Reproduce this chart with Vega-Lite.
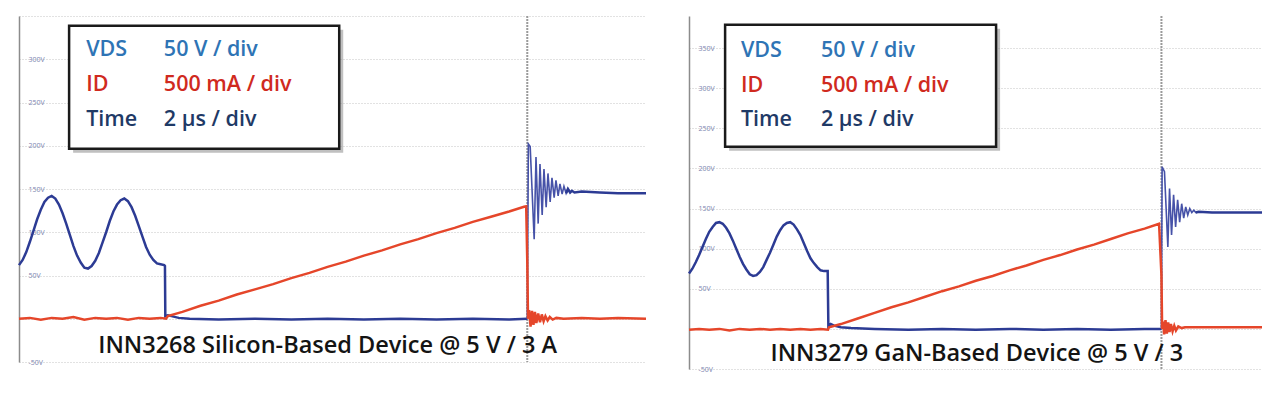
{
  "$schema": "https://vega.github.io/schema/vega-lite/v6.json",
  "padding": {"left": 14, "top": 15, "right": 0, "bottom": 0},
  "spacing": 33,
  "background": "white",
  "config": {"view": {"stroke": null}, "font": "Open Sans"},
  "datasets": {
    "lv": [
      {"t":0.0,"v":62},{"t":0.1,"v":68},{"t":0.2,"v":77},{"t":0.3,"v":89},{"t":0.4,"v":102},{"t":0.5,"v":115},{"t":0.6,"v":126},{"t":0.7,"v":135},{"t":0.8,"v":140},{"t":0.9,"v":142},
      {"t":1.0,"v":139},{"t":1.1,"v":132},{"t":1.2,"v":122},{"t":1.3,"v":110},{"t":1.4,"v":97},{"t":1.5,"v":84},{"t":1.6,"v":73},{"t":1.7,"v":65},{"t":1.8,"v":59},{"t":1.9,"v":58},
      {"t":2.0,"v":61},{"t":2.1,"v":67},{"t":2.2,"v":76},{"t":2.3,"v":88},{"t":2.4,"v":100},{"t":2.5,"v":113},{"t":2.6,"v":124},{"t":2.7,"v":132},{"t":2.8,"v":137},{"t":2.9,"v":139},
      {"t":3.0,"v":136},{"t":3.1,"v":129},{"t":3.2,"v":119},{"t":3.3,"v":107},{"t":3.4,"v":95},{"t":3.5,"v":83},{"t":3.6,"v":74},{"t":3.7,"v":68},{"t":3.8,"v":64},{"t":3.9,"v":63},
      {"t":4.0,"v":62},{"t":4.02,"v":61},{"t":4.03,"v":3},{"t":4.1,"v":4},{"t":4.2,"v":3},{"t":4.4,"v":1},{"t":4.7,"v":0},{"t":5.5,"v":-1},{"t":6.5,"v":0},{"t":7.5,"v":-1},
      {"t":8.5,"v":0},{"t":9.5,"v":-1},{"t":10.5,"v":0},{"t":11.5,"v":-1},{"t":12.5,"v":0},{"t":13.5,"v":-1},{"t":14.0,"v":0},
      {"t":14.03,"v":202},{"t":14.08,"v":199},{"t":14.19,"v":92},{"t":14.24,"v":187},{"t":14.30,"v":110},{"t":14.35,"v":179},{"t":14.41,"v":120},{"t":14.46,"v":173},{"t":14.52,"v":129},{"t":14.57,"v":168},
      {"t":14.63,"v":135},{"t":14.68,"v":163},{"t":14.74,"v":140},{"t":14.79,"v":160},{"t":14.85,"v":142},{"t":14.90,"v":156},{"t":14.96,"v":144},{"t":15.01,"v":153},{"t":15.07,"v":145},{"t":15.12,"v":150},
      {"t":15.18,"v":146},{"t":15.23,"v":148},{"t":15.3,"v":146},{"t":15.5,"v":147},{"t":16.0,"v":146},{"t":16.5,"v":145},{"t":17.27,"v":145}
    ],
    "li": [
      {"t":0.0,"i":0.0},{"t":0.3,"i":0.01},{"t":0.6,"i":-0.01},{"t":0.9,"i":0.01},{"t":1.2,"i":0.0},{"t":1.5,"i":0.02},{"t":1.8,"i":-0.01},{"t":2.1,"i":0.01},{"t":2.4,"i":0.0},{"t":2.7,"i":0.01},
      {"t":3.0,"i":-0.01},{"t":3.3,"i":0.01},{"t":3.6,"i":0.0},{"t":3.9,"i":0.01},{"t":4.05,"i":0.0},{"t":4.1,"i":0.03},{"t":4.5,"i":0.08},{"t":5.0,"i":0.15},{"t":5.5,"i":0.21},{"t":6.0,"i":0.28},
      {"t":6.5,"i":0.34},{"t":7.0,"i":0.40},{"t":7.5,"i":0.47},{"t":8.0,"i":0.53},{"t":8.5,"i":0.60},{"t":9.0,"i":0.66},{"t":9.5,"i":0.73},{"t":10.0,"i":0.79},{"t":10.5,"i":0.86},{"t":11.0,"i":0.92},
      {"t":11.5,"i":0.99},{"t":12.0,"i":1.05},{"t":12.5,"i":1.12},{"t":13.0,"i":1.18},{"t":13.5,"i":1.24},{"t":13.91,"i":1.295},{"t":13.97,"i":1.30},{"t":14.0,"i":0.66},{"t":14.02,"i":0.0},
      {"t":14.05,"i":0.10},{"t":14.09,"i":-0.09},{"t":14.13,"i":0.09},{"t":14.17,"i":-0.07},{"t":14.21,"i":0.08},{"t":14.25,"i":-0.05},{"t":14.30,"i":0.06},{"t":14.35,"i":-0.04},{"t":14.40,"i":0.05},
      {"t":14.45,"i":-0.03},{"t":14.5,"i":0.03},{"t":14.56,"i":-0.02},{"t":14.62,"i":0.02},{"t":14.7,"i":-0.01},{"t":14.8,"i":0.01},{"t":15.0,"i":0.0},{"t":15.5,"i":0.01},{"t":16.0,"i":0.0},{"t":16.5,"i":0.01},{"t":17.27,"i":0.0}
    ],
    "rv": [
      {"t":0.0,"v":69},{"t":0.1,"v":75},{"t":0.2,"v":83},{"t":0.3,"v":92},{"t":0.4,"v":102},{"t":0.5,"v":112},{"t":0.6,"v":121},{"t":0.7,"v":127},{"t":0.8,"v":132},{"t":0.9,"v":133},
      {"t":1.0,"v":131},{"t":1.1,"v":126},{"t":1.2,"v":119},{"t":1.3,"v":110},{"t":1.4,"v":100},{"t":1.5,"v":90},{"t":1.6,"v":81},{"t":1.7,"v":74},{"t":1.8,"v":68},{"t":1.9,"v":66},
      {"t":2.0,"v":67},{"t":2.1,"v":71},{"t":2.2,"v":77},{"t":2.3,"v":86},{"t":2.4,"v":95},{"t":2.5,"v":105},{"t":2.6,"v":115},{"t":2.7,"v":123},{"t":2.8,"v":129},{"t":2.9,"v":132},
      {"t":3.0,"v":133},{"t":3.1,"v":130},{"t":3.2,"v":124},{"t":3.3,"v":117},{"t":3.4,"v":107},{"t":3.5,"v":97},{"t":3.6,"v":88},{"t":3.7,"v":82},{"t":3.8,"v":77},{"t":3.9,"v":73},
      {"t":4.0,"v":72},{"t":4.11,"v":72},{"t":4.13,"v":3},{"t":4.2,"v":6},{"t":4.3,"v":4},{"t":4.5,"v":2},{"t":4.8,"v":1},{"t":5.5,"v":0},{"t":6.5,"v":-1},{"t":7.5,"v":0},
      {"t":8.5,"v":-1},{"t":9.5,"v":0},{"t":10.5,"v":-1},{"t":11.5,"v":0},{"t":12.5,"v":-1},{"t":13.5,"v":0},{"t":14.0,"v":0},
      {"t":14.02,"v":202},{"t":14.09,"v":196},{"t":14.19,"v":102},{"t":14.24,"v":175},{"t":14.30,"v":117},{"t":14.36,"v":167},{"t":14.42,"v":127},{"t":14.48,"v":161},{"t":14.54,"v":133},{"t":14.60,"v":156},
      {"t":14.66,"v":138},{"t":14.72,"v":152},{"t":14.78,"v":142},{"t":14.84,"v":150},{"t":14.90,"v":145},{"t":14.96,"v":148},{"t":15.02,"v":145},{"t":15.1,"v":146},{"t":15.5,"v":145},{"t":16.0,"v":145},{"t":16.98,"v":145}
    ],
    "ri": [
      {"t":0.0,"i":-0.01},{"t":0.3,"i":0.0},{"t":0.6,"i":-0.01},{"t":0.9,"i":0.0},{"t":1.2,"i":-0.02},{"t":1.5,"i":0.0},{"t":1.8,"i":-0.01},{"t":2.1,"i":0.0},{"t":2.4,"i":-0.01},{"t":2.7,"i":0.0},
      {"t":3.0,"i":-0.01},{"t":3.3,"i":0.0},{"t":3.6,"i":-0.01},{"t":3.9,"i":0.0},{"t":4.12,"i":-0.01},{"t":4.15,"i":0.02},{"t":4.5,"i":0.06},{"t":5.0,"i":0.13},{"t":5.5,"i":0.20},{"t":6.0,"i":0.27},
      {"t":6.5,"i":0.33},{"t":7.0,"i":0.40},{"t":7.5,"i":0.47},{"t":8.0,"i":0.53},{"t":8.5,"i":0.60},{"t":9.0,"i":0.66},{"t":9.5,"i":0.73},{"t":10.0,"i":0.79},{"t":10.5,"i":0.86},{"t":11.0,"i":0.92},
      {"t":11.5,"i":0.99},{"t":12.0,"i":1.05},{"t":12.5,"i":1.12},{"t":13.0,"i":1.19},{"t":13.5,"i":1.25},{"t":13.93,"i":1.31},{"t":14.0,"i":0.67},{"t":14.02,"i":0.0},
      {"t":14.05,"i":0.09},{"t":14.08,"i":-0.07},{"t":14.12,"i":0.11},{"t":14.16,"i":-0.06},{"t":14.2,"i":0.08},{"t":14.24,"i":-0.04},{"t":14.28,"i":0.06},{"t":14.33,"i":-0.03},{"t":14.38,"i":0.04},
      {"t":14.43,"i":-0.02},{"t":14.5,"i":0.03},{"t":14.6,"i":0.01},{"t":14.7,"i":0.02},{"t":15.0,"i":0.02},{"t":16.0,"i":0.02},{"t":16.98,"i":0.02}
    ],
    "box": [
      {"name":"VDS","per":"50 V / div"},
      {"name":"ID","per":"500 mA / div"},
      {"name":"Time","per":"2 µs / div"}
    ],
    "ltitle": [{"title":"INN3268 Silicon-Based Device @ 5 V / 3 A"}],
    "rtitle": [{"title":"INN3279 GaN-Based Device @ 5 V / 3"}],
    "trig": [{"t":14}],
    "frame": [{"part":"info box"}]
  },
  "hconcat": [
    {
      "width": 627,
      "height": 346,
      "resolve": {"scale": {"y": "independent"}},
      "layer": [
        {
          "data": {"name":"trig"},
          "mark": {"type":"rule","color":"#9a9a9a","strokeWidth":2,"strokeDash":[2,1]},
          "encoding": {"x": {"field":"t","type":"quantitative","scale":{"domain":[0,17.27],"nice":false},"axis":null}}
        },
        {
          "data": {"name":"lv"},
          "transform": [{"filter":"datum.t <= 14.0"}],
          "mark": {"type":"line","color":"#2c3b94","strokeWidth":2.5},
          "encoding": {
            "x": {"field":"t","type":"quantitative","scale":{"domain":[0,17.27],"nice":false},
              "axis":{"values":[0,2,4,6,8,10,12,14,16],"labels":false,"ticks":false,"domain":false,"title":null,"grid":true,"gridColor":"#c4c4c4","gridDash":[1,2],"gridWidth":1}},
            "y": {"field":"v","type":"quantitative","scale":{"domain":[-50,350],"nice":false},
              "axis":{"values":[-50,0,50,100,150,200,250,300,350],"labelExpr":"datum.value == 0 || datum.value == 350 ? '' : datum.value + 'V'","title":null,
                "ticks":false,"tickSize":0,"labelPadding":-9,"labelAlign":"left","labelBaseline":"middle","labelFontSize":7,"labelColor":"#7d84b0",
                "domainColor":"#8c8c8c","domainWidth":1.5,"grid":true,"gridColor":"#c4c4c4","gridDash":[1,2],"gridWidth":1}}
          }
        },
        {
          "data": {"name":"lv"},
          "transform": [{"filter":"datum.t >= 14.0 && datum.t <= 15.12"}],
          "mark": {"type":"line","color":"#4652a8","strokeWidth":1.6},
          "encoding": {
            "x": {"field":"t","type":"quantitative","scale":{"domain":[0,17.27],"nice":false},"axis":null},
            "y": {"field":"v","type":"quantitative","scale":{"domain":[-50,350],"nice":false},"axis":null}
          }
        },
        {
          "data": {"name":"lv"},
          "transform": [{"filter":"datum.t >= 15.07"}],
          "mark": {"type":"line","color":"#2c3b94","strokeWidth":2.5},
          "encoding": {
            "x": {"field":"t","type":"quantitative","scale":{"domain":[0,17.27],"nice":false},"axis":null},
            "y": {"field":"v","type":"quantitative","scale":{"domain":[-50,350],"nice":false},"axis":null}
          }
        },
        {
          "data": {"name":"li"},
          "mark": {"type":"line","color":"#e5462a","strokeWidth":2.5},
          "encoding": {
            "x": {"field":"t","type":"quantitative","scale":{"domain":[0,17.27],"nice":false},"axis":null},
            "y": {"field":"i","type":"quantitative","scale":{"domain":[-0.5,3.5],"nice":false},"axis":null}
          }
        },
        {
          "data": {"name":"frame"},
          "mark": {"type":"rect","fill":"#8c8c8c","opacity":0.55,"xOffset":4,"x2Offset":4,"yOffset":4,"y2Offset":4},
          "encoding": {
            "x": {"datum":1.38,"type":"quantitative","scale":{"domain":[0,17.27],"nice":false},"axis":null},
            "x2": {"datum":8.82},
            "y": {"datum":338.7,"type":"quantitative","scale":{"domain":[-50,350],"nice":false},"axis":null},
            "y2": {"datum":196.5}
          }
        },
        {
          "data": {"name":"frame"},
          "mark": {"type":"rect","fill":"white","stroke":"#1a1a1a","strokeWidth":2.5},
          "encoding": {
            "x": {"datum":1.38,"type":"quantitative","scale":{"domain":[0,17.27],"nice":false},"axis":null},
            "x2": {"datum":8.82},
            "y": {"datum":338.7,"type":"quantitative","scale":{"domain":[-50,350],"nice":false},"axis":null},
            "y2": {"datum":196.5}
          }
        },
        {
          "data": {"name":"box"},
          "mark": {"type":"text","align":"left","baseline":"middle","fontSize":21.5,"fontWeight":600},
          "encoding": {
            "x": {"datum":1.85,"type":"quantitative","scale":{"domain":[0,17.27],"nice":false},"axis":null},
            "y": {"field":"name","type":"nominal","sort":null,"scale":{"domain":["VDS","ID","Time"],"range":[34,104],"padding":0},"axis":null},
            "text": {"field":"name"},
            "color": {"field":"name","type":"nominal","scale":{"domain":["VDS","ID","Time"],"range":["#2e74b5","#d02a1e","#1f3a66"]},"legend":null}
          }
        },
        {
          "data": {"name":"box"},
          "mark": {"type":"text","align":"left","baseline":"middle","fontSize":21.5,"fontWeight":600},
          "encoding": {
            "x": {"datum":3.99,"type":"quantitative","scale":{"domain":[0,17.27],"nice":false},"axis":null},
            "y": {"field":"name","type":"nominal","sort":null,"scale":{"domain":["VDS","ID","Time"],"range":[34,104],"padding":0},"axis":null},
            "text": {"field":"per"},
            "color": {"field":"name","type":"nominal","scale":{"domain":["VDS","ID","Time"],"range":["#2e74b5","#d02a1e","#1f3a66"]},"legend":null}
          }
        },
        {
          "data": {"name":"ltitle"},
          "mark": {"type":"text","align":"center","baseline":"middle","fontSize":23.5,"fontWeight":600,"color":"#141414"},
          "encoding": {
            "x": {"datum":8.5,"type":"quantitative","scale":{"domain":[0,17.27],"nice":false},"axis":null},
            "y": {"datum":-32,"type":"quantitative","scale":{"domain":[-50,350],"nice":false},"axis":null},
            "text": {"field":"title"}
          }
        }
      ]
    },
    {
      "width": 573,
      "height": 353,
      "resolve": {"scale": {"y": "independent"}},
      "layer": [
        {
          "data": {"name":"trig"},
          "mark": {"type":"rule","color":"#9a9a9a","strokeWidth":2,"strokeDash":[2,1]},
          "encoding": {"x": {"field":"t","type":"quantitative","scale":{"domain":[0,16.98],"nice":false},"axis":null}}
        },
        {
          "data": {"name":"rv"},
          "transform": [{"filter":"datum.t <= 14.0"}],
          "mark": {"type":"line","color":"#2c3b94","strokeWidth":2.5},
          "encoding": {
            "x": {"field":"t","type":"quantitative","scale":{"domain":[0,16.98],"nice":false},
              "axis":{"values":[0,2,4,6,8,10,12,14,16],"labels":false,"ticks":false,"domain":false,"title":null,"grid":true,"gridColor":"#c4c4c4","gridDash":[1,2],"gridWidth":1}},
            "y": {"field":"v","type":"quantitative","scale":{"domain":[-50,390],"nice":false},
              "axis":{"values":[-50,0,50,100,150,200,250,300,350],"labelExpr":"datum.value == 0 ? '' : datum.value + 'V'","title":null,
                "ticks":false,"tickSize":0,"labelPadding":-9,"labelAlign":"left","labelBaseline":"middle","labelFontSize":7,"labelColor":"#7d84b0",
                "domainColor":"#8c8c8c","domainWidth":1.5,"grid":true,"gridColor":"#c4c4c4","gridDash":[1,2],"gridWidth":1}}
          }
        },
        {
          "data": {"name":"rv"},
          "transform": [{"filter":"datum.t >= 14.0 && datum.t <= 15.1"}],
          "mark": {"type":"line","color":"#4652a8","strokeWidth":1.6},
          "encoding": {
            "x": {"field":"t","type":"quantitative","scale":{"domain":[0,16.98],"nice":false},"axis":null},
            "y": {"field":"v","type":"quantitative","scale":{"domain":[-50,390],"nice":false},"axis":null}
          }
        },
        {
          "data": {"name":"rv"},
          "transform": [{"filter":"datum.t >= 15.02"}],
          "mark": {"type":"line","color":"#2c3b94","strokeWidth":2.5},
          "encoding": {
            "x": {"field":"t","type":"quantitative","scale":{"domain":[0,16.98],"nice":false},"axis":null},
            "y": {"field":"v","type":"quantitative","scale":{"domain":[-50,390],"nice":false},"axis":null}
          }
        },
        {
          "data": {"name":"ri"},
          "mark": {"type":"line","color":"#e5462a","strokeWidth":2.5},
          "encoding": {
            "x": {"field":"t","type":"quantitative","scale":{"domain":[0,16.98],"nice":false},"axis":null},
            "y": {"field":"i","type":"quantitative","scale":{"domain":[-0.5,3.9],"nice":false},"axis":null}
          }
        },
        {
          "data": {"name":"frame"},
          "mark": {"type":"rect","fill":"#8c8c8c","opacity":0.55,"xOffset":4,"x2Offset":4,"yOffset":4,"y2Offset":4},
          "encoding": {
            "x": {"datum":1.07,"type":"quantitative","scale":{"domain":[0,16.98],"nice":false},"axis":null},
            "x2": {"datum":9.10},
            "y": {"datum":379,"type":"quantitative","scale":{"domain":[-50,390],"nice":false},"axis":null},
            "y2": {"datum":227}
          }
        },
        {
          "data": {"name":"frame"},
          "mark": {"type":"rect","fill":"white","stroke":"#1a1a1a","strokeWidth":2.5},
          "encoding": {
            "x": {"datum":1.07,"type":"quantitative","scale":{"domain":[0,16.98],"nice":false},"axis":null},
            "x2": {"datum":9.10},
            "y": {"datum":379,"type":"quantitative","scale":{"domain":[-50,390],"nice":false},"axis":null},
            "y2": {"datum":227}
          }
        },
        {
          "data": {"name":"box"},
          "mark": {"type":"text","align":"left","baseline":"middle","fontSize":21.5,"fontWeight":600},
          "encoding": {
            "x": {"datum":1.54,"type":"quantitative","scale":{"domain":[0,16.98],"nice":false},"axis":null},
            "y": {"field":"name","type":"nominal","sort":null,"scale":{"domain":["VDS","ID","Time"],"range":[35,104],"padding":0},"axis":null},
            "text": {"field":"name"},
            "color": {"field":"name","type":"nominal","scale":{"domain":["VDS","ID","Time"],"range":["#2e74b5","#d02a1e","#1f3a66"]},"legend":null}
          }
        },
        {
          "data": {"name":"box"},
          "mark": {"type":"text","align":"left","baseline":"middle","fontSize":21.5,"fontWeight":600},
          "encoding": {
            "x": {"datum":3.91,"type":"quantitative","scale":{"domain":[0,16.98],"nice":false},"axis":null},
            "y": {"field":"name","type":"nominal","sort":null,"scale":{"domain":["VDS","ID","Time"],"range":[35,104],"padding":0},"axis":null},
            "text": {"field":"per"},
            "color": {"field":"name","type":"nominal","scale":{"domain":["VDS","ID","Time"],"range":["#2e74b5","#d02a1e","#1f3a66"]},"legend":null}
          }
        },
        {
          "data": {"name":"rtitle"},
          "mark": {"type":"text","align":"center","baseline":"middle","fontSize":23.5,"fontWeight":600,"color":"#141414"},
          "encoding": {
            "x": {"datum":8.53,"type":"quantitative","scale":{"domain":[0,16.98],"nice":false},"axis":null},
            "y": {"datum":-31,"type":"quantitative","scale":{"domain":[-50,390],"nice":false},"axis":null},
            "text": {"field":"title"}
          }
        }
      ]
    }
  ]
}
